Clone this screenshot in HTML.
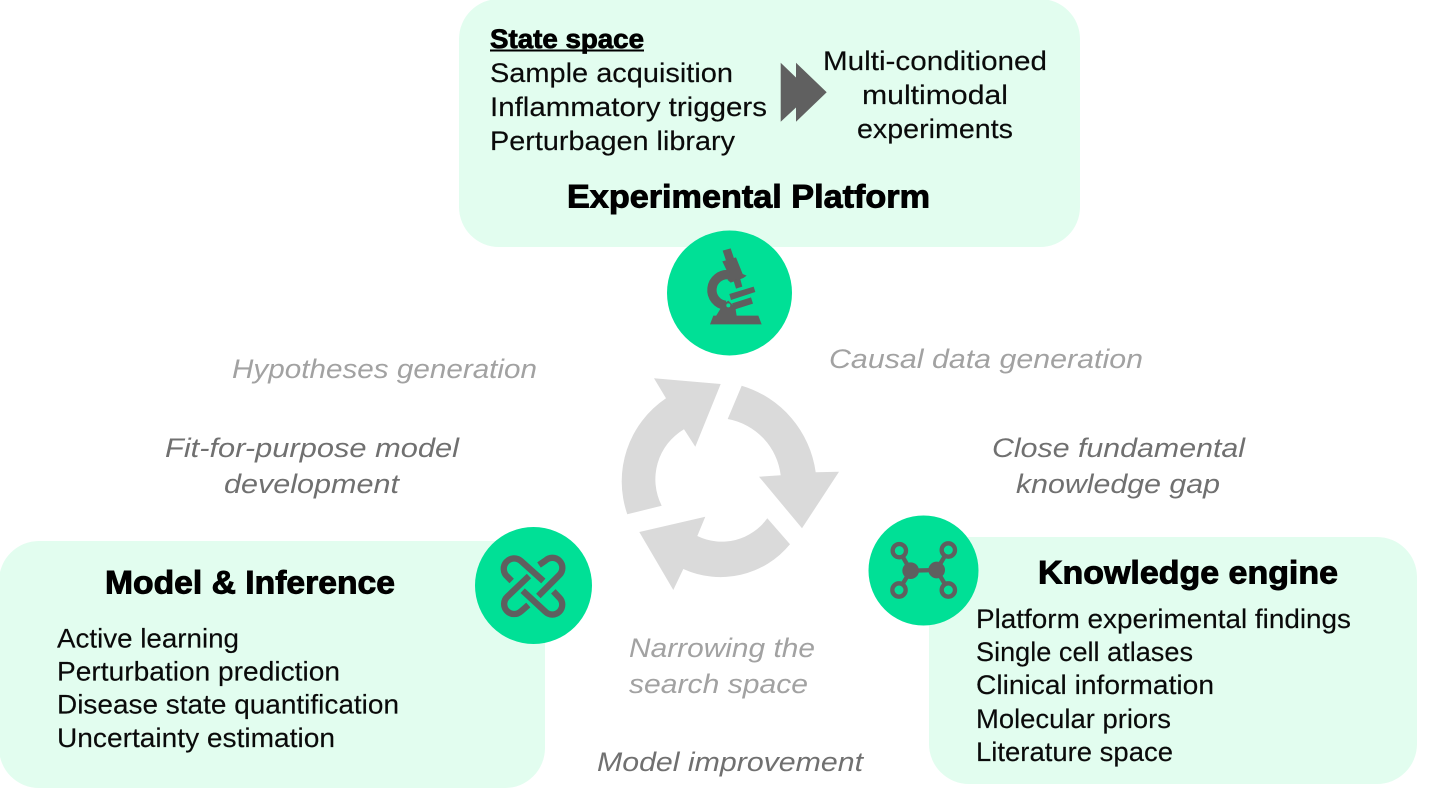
<!DOCTYPE html>
<html><head><meta charset="utf-8"><style>
html,body{margin:0;padding:0;background:#fff}
svg{display:block}
text{font-family:"Liberation Sans",sans-serif}
.n{font-size:27px;fill:#0a0a0a;stroke:#0a0a0a;stroke-width:.15}
.b{font-size:27px;font-weight:bold;fill:#000;stroke:#000;stroke-width:.8}
.h{font-size:32px;font-weight:bold;fill:#000;stroke:#000;stroke-width:.9}
.i1{font-size:27px;font-style:italic;fill:#a2a2a2}
.i2{font-size:27px;font-style:italic;fill:#707070}
</style></head><body>
<svg width="1456" height="807" viewBox="0 0 1456 807" xmlns="http://www.w3.org/2000/svg">
<rect width="1456" height="807" fill="#fff"/>
<rect x="459" y="-1" width="621" height="248" rx="40" fill="#e2fdef"/>
<rect x="-1" y="541" width="546" height="247" rx="40" fill="#e2fdef"/>
<rect x="929" y="537" width="488" height="247" rx="40" fill="#e2fdef"/>

<!-- cycle arrows -->
<g fill="#dadada">
<path d="M720.7 384 L654 378.3 L666 398.3 A100 100 0 0 0 627.3 514.3 L661.7 505.7 A58 58 0 0 1 684 429.3 L695.3 446.7 Z"/>
<path d="M741.7 385.7 A105 105 0 0 1 815.7 472.3 L839 471.7 L802 528.3 L759 476.7 L780.7 475.3 A65 65 0 0 0 727.7 419 Z"/>
<path d="M790 544.3 A90 90 0 0 1 683.3 569 L673.3 590 L639.3 532 L705.3 516.7 L697.3 536 A56 56 0 0 0 767.3 518.3 Z"/>
</g>

<!-- circles -->
<circle cx="729.5" cy="293" r="62.5" fill="#00e096"/>
<circle cx="533.5" cy="585.5" r="58.5" fill="#00e096"/>
<circle cx="923.5" cy="570.5" r="55" fill="#00e096"/>

<!-- microscope -->
<g transform="translate(660 230) scale(.33333)" fill="#5f5f5f">
<path d="M150 283 L160 257 L295 257 L305 283 Z"/>
<path d="M188 62 L212 55 L222 85 L198 92 Z"/>
<path d="M187 94 L228 82 L248 132 L260 137 L250 144 L212 158 L203 150 L206 134 Z"/>
<path d="M220 150 L240 144 L247 170 L228 176 Z"/>
<path d="M207 134 A46 46 0 0 0 197 226" fill="none" stroke="#5f5f5f" stroke-width="28"/>
<path d="M208 192 L281 170 L286 186 L213 210 Z"/>
<path d="M216 220 L273 202 L279 221 L225 238 Z"/>
<path d="M168 258 L190 222 L205 212 L226 232 L230 258 Z"/>
<circle cx="205" cy="226" r="6" fill="#00e096"/>
</g>

<!-- link icon -->
<g transform="translate(470 520) scale(.33333)" fill="none" stroke="#5f5f5f" stroke-width="19">
<path d="M125 183 L112 170 A29 29 0 0 1 153 123 L220 183"/>
<path d="M207 135 L226 122 A29 29 0 0 1 268 165 L205 228"/>
<path d="M177 168 L112 230 A29 29 0 0 0 153 274 L175 255"/>
<path d="M158 212 L226 275 A29 29 0 0 0 268 233 L250 214"/>
</g>

<!-- molecule -->
<g transform="translate(860 510) scale(.33333)" stroke="#5f5f5f" fill="none">
<path d="M118 122 L152 182 L230 180 L265 120 M117 240 L152 182 M265 240 L230 180" stroke-width="13"/>
<circle cx="152" cy="182" r="25" fill="#5f5f5f" stroke="none"/>
<circle cx="230" cy="180" r="25" fill="#5f5f5f" stroke="none"/>
<circle cx="118" cy="122" r="20" fill="#00e096" stroke-width="13"/>
<circle cx="265" cy="120" r="20" fill="#00e096" stroke-width="13"/>
<circle cx="117" cy="240" r="20" fill="#00e096" stroke-width="13"/>
<circle cx="265" cy="240" r="20" fill="#00e096" stroke-width="13"/>
</g>

<!-- double chevron -->
<path d="M780.7 62.7 L796 77.5 L796 62.7 L826.7 92.3 L796 121.7 L796 107.5 L780.7 121.7 Z" fill="#606060"/>

<!-- top box -->
<text class="b" x="490" y="48" textLength="154" lengthAdjust="spacingAndGlyphs">State space</text>
<rect x="490" y="49.5" width="154" height="2" fill="#000"/>
<text class="n" x="490" y="82" textLength="243" lengthAdjust="spacingAndGlyphs">Sample acquisition</text>
<text class="n" x="490" y="116" textLength="277" lengthAdjust="spacingAndGlyphs">Inflammatory triggers</text>
<text class="n" x="490" y="150" textLength="245" lengthAdjust="spacingAndGlyphs">Perturbagen library</text>
<text class="n" x="823" y="70" textLength="224" lengthAdjust="spacingAndGlyphs">Multi-conditioned</text>
<text class="n" x="862" y="104" textLength="146" lengthAdjust="spacingAndGlyphs">multimodal</text>
<text class="n" x="857" y="138" textLength="156" lengthAdjust="spacingAndGlyphs">experiments</text>
<text class="h" x="567" y="207.5" textLength="363" lengthAdjust="spacingAndGlyphs">Experimental Platform</text>

<!-- italics -->
<text class="i1" x="232" y="378" textLength="305" lengthAdjust="spacingAndGlyphs">Hypotheses generation</text>
<text class="i1" x="829" y="368" textLength="314" lengthAdjust="spacingAndGlyphs">Causal data generation</text>
<text class="i2" x="165" y="457" textLength="294" lengthAdjust="spacingAndGlyphs">Fit-for-purpose model</text>
<text class="i2" x="224" y="493" textLength="175" lengthAdjust="spacingAndGlyphs">development</text>
<text class="i2" x="992" y="457" textLength="253" lengthAdjust="spacingAndGlyphs">Close fundamental</text>
<text class="i2" x="1016" y="493" textLength="204" lengthAdjust="spacingAndGlyphs">knowledge gap</text>
<text class="i1" x="629" y="657" textLength="186" lengthAdjust="spacingAndGlyphs">Narrowing the</text>
<text class="i1" x="629" y="693" textLength="179" lengthAdjust="spacingAndGlyphs">search space</text>
<text class="i2" x="597" y="771" textLength="266" lengthAdjust="spacingAndGlyphs">Model improvement</text>

<!-- left box -->
<text class="h" x="105" y="593.5" textLength="290" lengthAdjust="spacingAndGlyphs">Model &amp; Inference</text>
<text class="n" x="57" y="647.5" textLength="182" lengthAdjust="spacingAndGlyphs">Active learning</text>
<text class="n" x="57" y="680.5" textLength="283" lengthAdjust="spacingAndGlyphs">Perturbation prediction</text>
<text class="n" x="57" y="713.5" textLength="342" lengthAdjust="spacingAndGlyphs">Disease state quantification</text>
<text class="n" x="57" y="747" textLength="278" lengthAdjust="spacingAndGlyphs">Uncertainty estimation</text>

<!-- right box -->
<text class="h" x="1038" y="583.5" textLength="300" lengthAdjust="spacingAndGlyphs">Knowledge engine</text>
<text class="n" x="976" y="628" textLength="375" lengthAdjust="spacingAndGlyphs">Platform experimental findings</text>
<text class="n" x="976" y="661" textLength="217" lengthAdjust="spacingAndGlyphs">Single cell atlases</text>
<text class="n" x="976" y="694" textLength="238" lengthAdjust="spacingAndGlyphs">Clinical information</text>
<text class="n" x="976" y="728" textLength="195" lengthAdjust="spacingAndGlyphs">Molecular priors</text>
<text class="n" x="976" y="761" textLength="197" lengthAdjust="spacingAndGlyphs">Literature space</text>
</svg>
</body></html>
